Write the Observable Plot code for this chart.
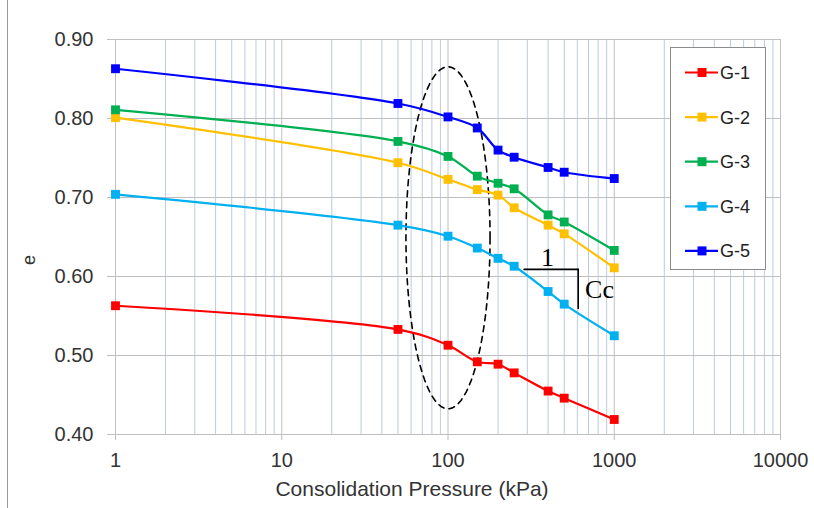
<!DOCTYPE html>
<html>
<head>
<meta charset="utf-8">
<script src="https://cdn.jsdelivr.net/npm/d3@7"></script>
<script src="https://cdn.jsdelivr.net/npm/@observablehq/plot@0.6"></script>
<style>
  body { margin: 0; background: #fff; }
  #wrap { position: relative; width: 814px; height: 508px; font-family: "Liberation Sans", Arial, sans-serif; overflow: hidden; }
  #border { position: absolute; left: 7px; top: 0; width: 0; height: 508px; border-left: 1px solid #9a9a9a; }
  #legend { position: absolute; left: 670px; top: 47px; width: 96px; height: 223px; background: #fff; border: 1px solid #8c8c8c; box-sizing: border-box; }
</style>
</head>
<body>
<div id="wrap"><div id="border"></div></div>
<script>
// ---- data ----
const pressure = [1, 50, 100, 150, 200, 250, 400, 500, 1000];
const seriesNames = ["G-1", "G-2", "G-3", "G-4", "G-5"];
const seriesColors = ["#ff0000", "#ffc000", "#00b050", "#00b0f0", "#0000ff"];
const g1 = [0.563, 0.533, 0.513, 0.492, 0.489, 0.478, 0.455, 0.446, 0.419];
const g2 = [0.801, 0.744, 0.723, 0.710, 0.703, 0.687, 0.665, 0.654, 0.611];
const g3 = [0.811, 0.771, 0.752, 0.727, 0.718, 0.711, 0.678, 0.669, 0.633];
const g4 = [0.704, 0.665, 0.651, 0.636, 0.623, 0.613, 0.581, 0.565, 0.525];
const g5 = [0.863, 0.819, 0.802, 0.788, 0.760, 0.751, 0.738, 0.732, 0.724];
const xMajorTicks = [1, 10, 100, 1000, 10000];
const yTicks = [0.4, 0.5, 0.6, 0.7, 0.8, 0.9];
// slope-triangle annotation (data units)
const slopeH = [{p: 287, e: 0.609}, {p: 607, e: 0.609}];
const slopeV = [{p: 607, e: 0.609}, {p: 607, e: 0.5595}];
const slopeOne = [{p: 397, e: 0.6127, t: "1"}];
const slopeCc = [{p: 668, e: 0.5722, t: "Cc"}];
// dashed ellipse annotation: centre (100 kPa, e=0.649), half-axes 0.253 decades, 0.2165 in e
const ellipse = d3.range(0, 361, 4).map(a => {
  const t = a * Math.PI / 180;
  return {p: Math.pow(10, 2 + 0.253 * Math.cos(t)), e: 0.649 + 0.2165 * Math.sin(t)};
});

const allSeries = [g1, g2, g3, g4, g5];
const rows = seriesNames.flatMap((name, s) => pressure.map((p, i) => ({p, e: allSeries[s][i], name})));
const minorTicks = [1, 10, 100, 1000].flatMap(d => d3.range(2, 10).map(k => d * k));
const serif = "'Liberation Serif', 'Times New Roman', serif";

const chart = Plot.plot({
  width: 814,
  height: 508,
  marginLeft: 115,
  marginRight: 34,
  marginTop: 39,
  marginBottom: 74,
  style: {fontFamily: "'Liberation Sans', Arial, sans-serif", background: "transparent"},
  x: {type: "log", domain: [1, 10000]},
  y: {domain: [0.4, 0.9]},
  color: {domain: seriesNames, range: seriesColors},
  marks: [
    Plot.ruleX(minorTicks, {stroke: "#bccbdd", strokeWidth: 1}),
    Plot.ruleX(xMajorTicks, {stroke: "#c0c0c0", strokeWidth: 1}),
    Plot.ruleY(yTicks, {stroke: "#bfbfbf", strokeWidth: 1}),
    Plot.axisY({ticks: yTicks, tickSize: 8, tickPadding: 14, tickFormat: d3.format(".2f"), stroke: "#bfbfbf", fill: "#333", fontSize: 20, label: null}),
    Plot.axisX({ticks: xMajorTicks, tickSize: 6, tickPadding: 12, tickFormat: d => String(d), stroke: "#bfbfbf", fill: "#333", fontSize: 20, label: null}),
    Plot.text(["Consolidation Pressure (kPa)"], {frameAnchor: "bottom", dx: -36, dy: 61, fontSize: 21, fill: "#333"}),
    Plot.text(["e"], {frameAnchor: "left", dx: -86, dy: 28, rotate: -90, fontSize: 18, fill: "#333"}),
    Plot.line(ellipse, {x: "p", y: "e", stroke: "#000", strokeWidth: 1.6, strokeDasharray: "6,5"}),
    ...seriesNames.flatMap(name => [
      Plot.line(rows.filter(r => r.name === name), {x: "p", y: "e", stroke: "name", strokeWidth: 2.2, curve: "catmull-rom"}),
      Plot.dot(rows.filter(r => r.name === name), {x: "p", y: "e", fill: "name", symbol: "square", r: 5})
    ]),
    Plot.line(slopeH, {x: "p", y: "e", stroke: "#000", strokeWidth: 1.6}),
    Plot.line(slopeV, {x: "p", y: "e", stroke: "#000", strokeWidth: 1.6}),
    Plot.text(slopeOne, {x: "p", y: "e", text: "t", textAnchor: "middle", lineAnchor: "bottom", fontSize: 26, fontFamily: serif, fill: "#000"}),
    Plot.text(slopeCc, {x: "p", y: "e", text: "t", textAnchor: "start", lineAnchor: "bottom", fontSize: 26, fontFamily: serif, fill: "#000"})
  ]
});
chart.style.position = "absolute";
chart.style.left = "0px";
chart.style.top = "0px";
const wrap = document.getElementById("wrap");
wrap.appendChild(chart);

// legend
const legend = document.createElement("div");
legend.id = "legend";
const ns = "http://www.w3.org/2000/svg";
const lsvg = document.createElementNS(ns, "svg");
lsvg.setAttribute("width", 96);
lsvg.setAttribute("height", 223);
seriesNames.forEach((name, i) => {
  const cy = 24.5 + i * 44.6;
  const line = document.createElementNS(ns, "line");
  line.setAttribute("x1", 14); line.setAttribute("x2", 47);
  line.setAttribute("y1", cy); line.setAttribute("y2", cy);
  line.setAttribute("stroke", seriesColors[i]); line.setAttribute("stroke-width", 2.2);
  lsvg.appendChild(line);
  const sq = document.createElementNS(ns, "rect");
  sq.setAttribute("x", 26.5); sq.setAttribute("y", cy - 4.5);
  sq.setAttribute("width", 9); sq.setAttribute("height", 9);
  sq.setAttribute("fill", seriesColors[i]);
  lsvg.appendChild(sq);
  const tx = document.createElementNS(ns, "text");
  tx.setAttribute("x", 49); tx.setAttribute("y", cy + 6.5);
  tx.setAttribute("font-size", 18);
  tx.setAttribute("font-family", "'Liberation Sans', Arial, sans-serif");
  tx.setAttribute("fill", "#222");
  tx.textContent = name;
  lsvg.appendChild(tx);
});
legend.appendChild(lsvg);
wrap.appendChild(legend);
</script>
</body>
</html>
